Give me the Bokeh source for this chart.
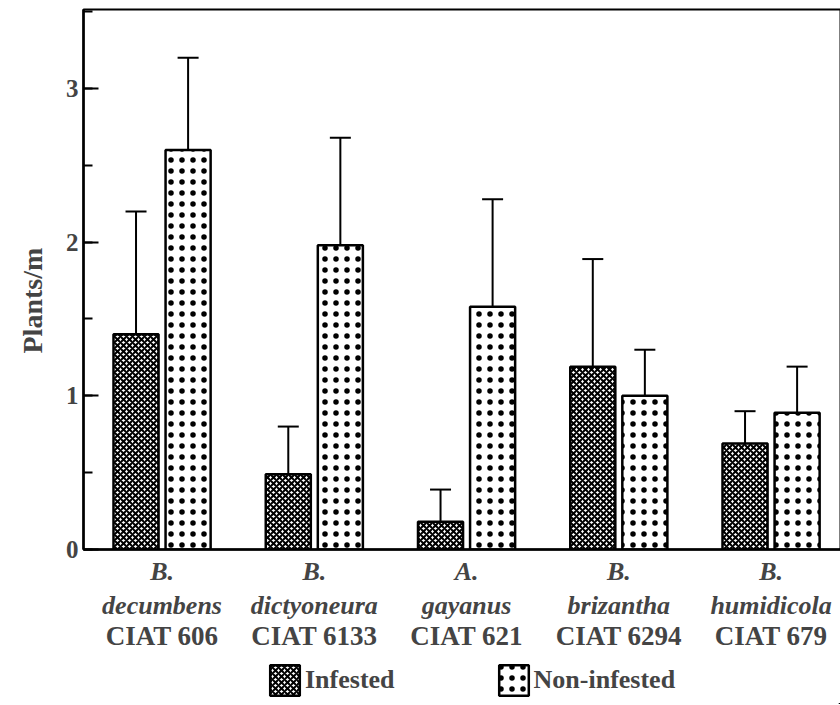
from bokeh.plotting import figure
from bokeh.layouts import column
from bokeh.models import (FixedTicker, SingleIntervalTicker, LinearAxis, Range1d,
                          Whisker, ColumnDataSource, Legend, LegendItem, TeeHead, Title)
from bokeh.embed import file_html
from bokeh.resources import INLINE

genus = ["B.", "B.", "A.", "B.", "B."]
species = ["decumbens", "dictyoneura", "gayanus", "brizantha", "humidicola"]
accession = ["CIAT 606", "CIAT 6133", "CIAT 621", "CIAT 6294", "CIAT 679"]
infested = [1.40, 0.49, 0.18, 1.19, 0.69]
infested_err = [0.80, 0.31, 0.21, 0.70, 0.21]
non_infested = [2.60, 1.98, 1.58, 1.00, 0.89]
non_infested_err = [0.60, 0.70, 0.70, 0.30, 0.30]
series_names = ["Infested", "Non-infested"]
y_title = "Plants/m"

FONT = "Liberation Serif"
OFF = 0.171
BW = 0.296
X0, X1 = -0.016, 4.956

INF_STYLE = dict(fill_color="white", line_color="black", line_width=2.5,
                 hatch_pattern="diagonal_cross", hatch_color="black",
                 hatch_scale=6, hatch_weight=2)
NON_STYLE = dict(fill_color="white", line_color="black", line_width=2.5,
                 hatch_pattern="dot", hatch_color="black", hatch_scale=11,
                 hatch_weight=1.8)

centers = [i + 0.5 for i in range(len(species))]
src_inf = ColumnDataSource(dict(
    x=[c - OFF for c in centers], v=infested,
    top=[a + b for a, b in zip(infested, infested_err)]))
src_non = ColumnDataSource(dict(
    x=[c + OFF for c in centers], v=non_infested,
    top=[a + b for a, b in zip(non_infested, non_infested_err)]))

p = figure(frame_width=757, frame_height=540, output_backend="svg",
           toolbar_location=None, x_axis_type=None,
           x_range=Range1d(X0, X1), y_range=Range1d(0, 3.514),
           min_border_left=82, min_border_top=9, min_border_right=1,
           min_border_bottom=105)
p.background_fill_color = "white"
p.border_fill_color = "white"
p.outline_line_color = "black"
p.outline_line_width = 2
p.xgrid.visible = False
p.ygrid.visible = False

p.vbar(x="x", top="v", width=BW, source=src_inf, **INF_STYLE)
p.vbar(x="x", top="v", width=BW, source=src_non, **NON_STYLE)

for src in (src_inf, src_non):
    w = Whisker(base="x", lower="v", upper="top", source=src,
                upper_head=TeeHead(size=21, line_width=2, line_color="black"),
                lower_head=None, line_width=2, line_color="black")
    p.add_layout(w)

# y axis
ya = p.yaxis[0]
ya.ticker = SingleIntervalTicker(interval=1, num_minor_ticks=2)
ya.major_tick_in = 15
ya.major_tick_out = 0
ya.minor_tick_in = 9
ya.minor_tick_out = 0
ya.axis_line_width = 2.5
ya.major_tick_line_width = 2
ya.minor_tick_line_width = 2
ya.major_label_text_font = FONT
ya.major_label_text_font_style = "bold"
ya.major_label_text_font_size = "25px"
ya.major_label_standoff = 5

p.add_layout(Title(text=y_title, align="left", offset=196, standoff=29,
                   text_font=FONT, text_font_style="bold", text_font_size="28px"),
             "left")

# x axes (species lines, then accession line)
ax1 = LinearAxis(ticker=FixedTicker(ticks=centers),
                 major_label_overrides={c: f"{g}\n{s}" for c, g, s in zip(centers, genus, species)})
ax1.axis_line_width = 2.5
ax1.major_tick_in = 0
ax1.major_tick_out = 0
ax1.minor_tick_in = 0
ax1.minor_tick_out = 0
ax1.major_label_text_font = FONT
ax1.major_label_text_font_style = "bold italic"
ax1.major_label_text_font_size = "26px"
ax1.major_label_standoff = 7
p.add_layout(ax1, "below")

ax2 = LinearAxis(ticker=FixedTicker(ticks=centers),
                 major_label_overrides={c: a for c, a in zip(centers, accession)})
ax2.axis_line_alpha = 0
ax2.major_tick_in = 0
ax2.major_tick_out = 0
ax2.minor_tick_in = 0
ax2.minor_tick_out = 0
ax2.major_label_text_font = FONT
ax2.major_label_text_font_style = "bold"
ax2.major_label_text_font_size = "27px"
ax2.major_label_standoff = -3
p.add_layout(ax2, "below")

# legend strip underneath: its own small figure; the series' bars lie outside
# its visible ranges (right of and below it) so only the legend swatches show
lf = figure(width=840, height=50, output_backend="svg", toolbar_location=None,
            x_axis_type=None, y_axis_type=None, x_range=Range1d(-101, -100),
            y_range=Range1d(100, 101), min_border=0)
lf.outline_line_color = None
lf.xgrid.visible = False
lf.ygrid.visible = False
l_inf = lf.vbar(x="x", top="v", width=BW, source=src_inf, **INF_STYLE)
l_non = lf.vbar(x="x", top="v", width=BW, source=src_non, **NON_STYLE)
legend = Legend(items=[LegendItem(label=series_names[0], renderers=[l_inf]),
                       LegendItem(label=series_names[1], renderers=[l_non])],
                orientation="horizontal", location=(183, 5),
                glyph_width=37, glyph_height=38, label_standoff=2,
                spacing=100, padding=0, margin=0,
                label_text_font=FONT, label_text_font_style="bold",
                label_text_font_size="26px",
                border_line_alpha=0, background_fill_alpha=0)
lf.add_layout(legend, "center")

open("out.html", "w").write(file_html(column(p, lf, spacing=0), INLINE))
